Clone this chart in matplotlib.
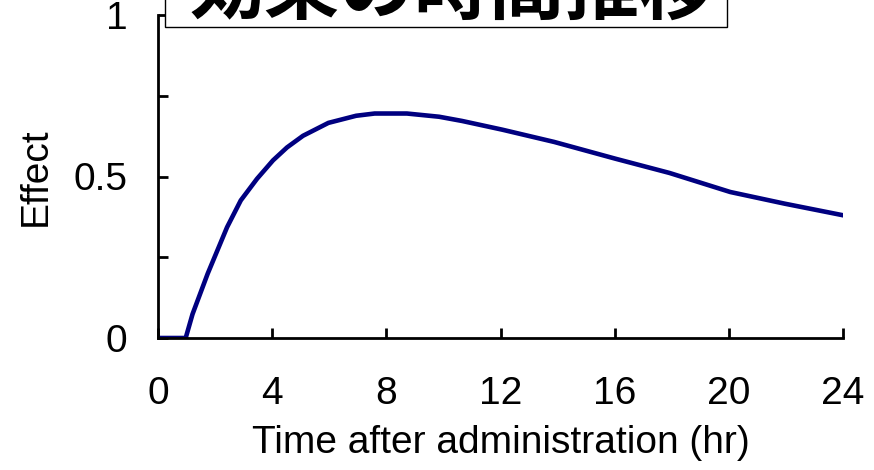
import matplotlib
matplotlib.use('Agg')
import matplotlib.pyplot as plt
from matplotlib.patches import Rectangle

# time course of drug effect
hours = [0, 0.5, 0.97, 1.21, 1.74, 2.42, 2.9, 3.47, 4.03, 4.52, 5.08, 5.97, 6.94,
         7.59, 8.72, 9.85, 10.65, 12.06, 13.88, 16.03, 17.92, 20.05, 21.95, 24]
effect = [0, 0, 0, 0.074, 0.199, 0.343, 0.426, 0.493, 0.55, 0.59, 0.626, 0.666, 0.688,
          0.695, 0.695, 0.685, 0.672, 0.645, 0.607, 0.555, 0.511, 0.452, 0.416, 0.38]

xticks = [0, 4, 8, 12, 16, 20, 24]
yticks = [0, 0.25, 0.5, 0.75, 1]
ylabels = ['0', '', '0.5', '', '1']
title = '効果の時間推移'

plt.rcParams['font.family'] = ['Liberation Sans', 'DejaVu Sans']

fig = plt.figure(figsize=(8.74, 4.70), dpi=100)
ax = fig.add_axes([158/874, 1-338/470, (843-158)/874, (338-15)/470])

ax.plot(hours, effect, color='#000080', lw=3.3)
ax.set_xlim(0, 24)
ax.set_ylim(0, 1)
ax.set_xticks(xticks)
ax.set_yticks(yticks)
ax.set_yticklabels(ylabels)

for s in ['top', 'right']:
    ax.spines[s].set_visible(False)
for s in ['left', 'bottom']:
    ax.spines[s].set_linewidth(2)
ax.tick_params(direction='in', length=7, width=2, labelsize=28)
ax.tick_params(axis='y', pad=22)
ax.tick_params(axis='x', pad=27)

ax.set_xlabel('Time after administration (hr)', fontsize=28, labelpad=10)
ax.set_ylabel('Effect', fontsize=28, labelpad=14)

# title box, cut off at the top edge
fig.patches.append(Rectangle((165/874, 1-27/470), (727-165)/874, 0.2,
                             transform=fig.transFigure, facecolor='white',
                             edgecolor='black', lw=1, zorder=5))
fig.text(452/874, 1-14/470, title, ha='center', va='baseline', fontsize=54,
         fontweight='bold', family=['Noto Sans CJK JP', 'DejaVu Sans'], zorder=6)

fig.savefig('out.png', dpi=100)
